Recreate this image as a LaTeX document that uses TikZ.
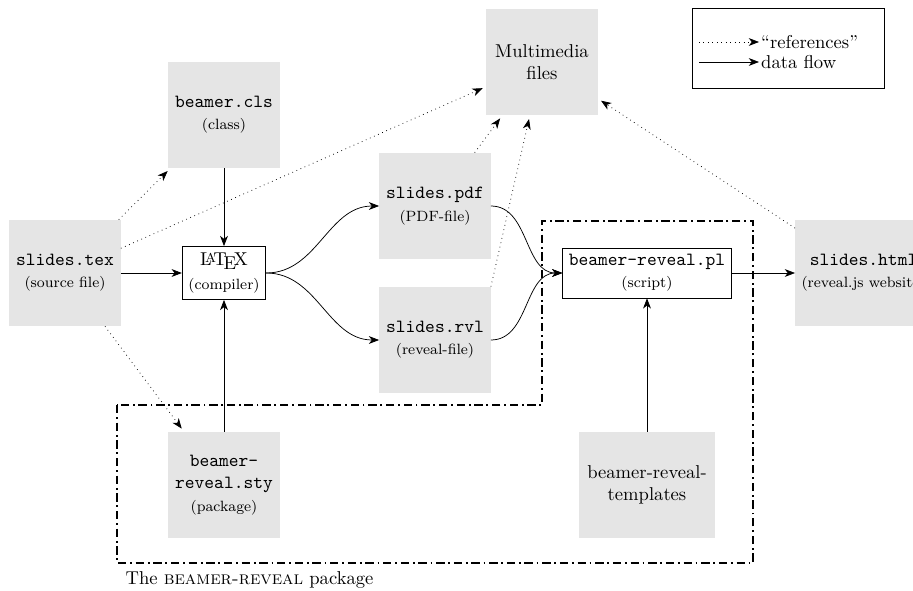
\documentclass[tikz,border=0pt]{standalone}
\usepackage{fontspec}
\usetikzlibrary{arrows.meta}

\begin{document}
\begin{tikzpicture}[%
  x=0.5376pt, y=-0.5376pt,
  >={Stealth[length=5.5pt, width=4.2pt, inset=1.6pt]},
  file/.style={fill=black!10, align=center, minimum width=59.7pt, minimum height=57pt},
  prog/.style={draw, fill=white, align=center},
  flow/.style={->},
  ref/.style={->, dotted, shorten >=2pt},
  pkgframe/.style={line width=1pt, dash pattern=on 4.5pt off 2pt on 1pt off 2pt}]
\useasboundingbox (0,0) rectangle (913,591);

\node[file] (src) at (65,273) {\texttt{slides.tex}\\{\footnotesize (source file)}};
\node[prog] (latex) at (224,273) {\LaTeX\\[1pt]{\footnotesize (compiler)}};
\node[file] (cls) at (224,115) {\texttt{beamer.cls}\\{\footnotesize (class)}};
\node[file] (sty) at (224,485) {\texttt{beamer-}\\\texttt{reveal.sty}\\{\footnotesize (package)}};
\node[file] (media) at (542,62) {Multimedia\\files};
\node[file] (pdf) at (435,206) {\texttt{slides.pdf}\\{\footnotesize (PDF-file)}};
\node[file] (rvl) at (435,340) {\texttt{slides.rvl}\\{\footnotesize (reveal-file)}};
\node[prog] (script) at (647,273) {\texttt{beamer-reveal.pl}\\{\footnotesize (script)}};
\node[file, anchor=west] (html) at (795,273) {\texttt{slides.html}\\{\footnotesize (reveal.js website)}};
\node[file, minimum width=72.6pt] (tmpl) at (647,485) {beamer-reveal-\\templates};

\draw[pkgframe] (117,405) -- (117,563) -- (753,563) -- (753,221) -- (542,221) -- (542,405) -- cycle;
\node[anchor=north west] (pkglabel) at (119,565) {The \textsc{beamer-reveal} package};

\draw[flow] (src) -- (latex);
\draw[flow] (cls) -- (latex);
\draw[flow] (sty) -- (latex);
\draw[flow] (latex.east) to[out=0,in=180] (pdf.west);
\draw[flow] (latex.east) to[out=0,in=180] (rvl.west);
\draw[flow] (pdf.east) to[out=0,in=180] (script.west);
\draw[flow] (rvl.east) to[out=0,in=180] (script.west);
\draw[flow] (script) -- (html);
\draw[flow] (tmpl) -- (script);

\draw[ref] (src) -- (cls);
\draw[ref] (src) -- (media);
\draw[ref] (src) -- (sty);
\draw[ref] (pdf) -- (media);
\draw[ref] (rvl.north east) -- (media);
\draw[ref] (html) -- (media);

\node[draw, minimum width=103.2pt, minimum height=43pt] (legend) at (788,48) {};
\coordinate (refstart) at (699,42);
\coordinate (flowstart) at (699,62);
\node[anchor=west, inner sep=1pt] (reftext) at (759,42) {``references''};
\node[anchor=west, inner sep=1pt] (flowtext) at (759,62) {data flow};
\draw[ref, shorten >=0pt] (refstart) -- (reftext);
\draw[flow] (flowstart) -- (flowtext);
\end{tikzpicture}
\end{document}
